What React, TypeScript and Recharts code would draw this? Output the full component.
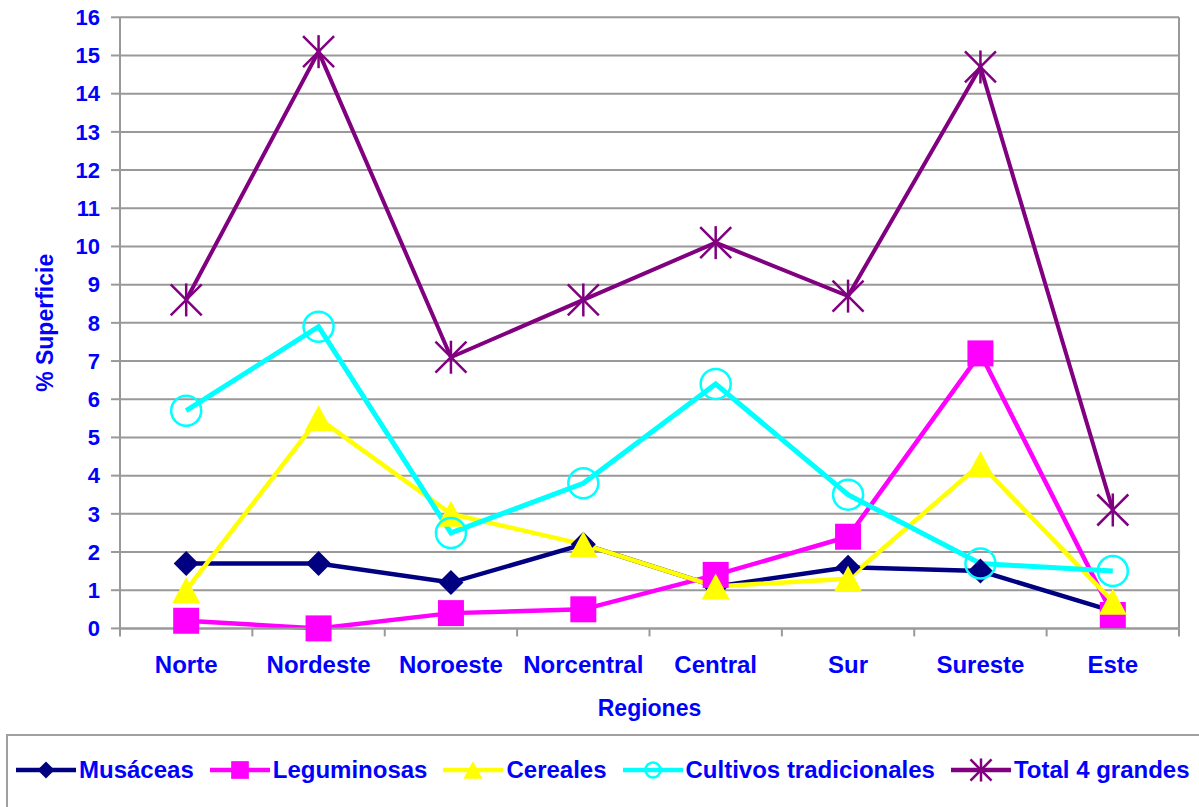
import React from 'react';
import { LineChart, Line, XAxis, YAxis, CartesianGrid, Legend, Label } from 'recharts';

const categories = ['Norte', 'Nordeste', 'Noroeste', 'Norcentral', 'Central', 'Sur', 'Sureste', 'Este'];
const musaceas = [1.7, 1.7, 1.2, 2.2, 1.1, 1.6, 1.5, 0.45];
const leguminosas = [0.2, 0.0, 0.4, 0.5, 1.4, 2.4, 7.2, 0.35];
const cereales = [1.0, 5.5, 3.0, 2.2, 1.1, 1.3, 4.3, 0.7];
const cultivos = [5.7, 7.9, 2.5, 3.8, 6.4, 3.5, 1.7, 1.5];
const total = [8.6, 15.1, 7.1, 8.6, 10.1, 8.7, 14.7, 3.1];
const yTicks = [0, 1, 2, 3, 4, 5, 6, 7, 8, 9, 10, 11, 12, 13, 14, 15, 16];
const xTitle = 'Regiones';
const yTitle = '% Superficie';

type Kind = 'diamond' | 'square' | 'triangle' | 'circle' | 'star';

const series: { key: string; name: string; color: string; kind: Kind; width: number }[] = [
  { key: 'musaceas', name: 'Musáceas', color: '#000080', kind: 'diamond', width: 4.5 },
  { key: 'leguminosas', name: 'Leguminosas', color: '#FF00FF', kind: 'square', width: 4.5 },
  { key: 'cereales', name: 'Cereales', color: '#FFFF00', kind: 'triangle', width: 4.5 },
  { key: 'cultivos', name: 'Cultivos tradicionales', color: '#00FFFF', kind: 'circle', width: 5 },
  { key: 'total', name: 'Total 4 grandes', color: '#800080', kind: 'star', width: 4 },
];

const data = categories.map((c, i) => ({
  idx: i,
  name: c,
  musaceas: musaceas[i],
  leguminosas: leguminosas[i],
  cereales: cereales[i],
  cultivos: cultivos[i],
  total: total[i],
}));

const xTicks = [
  ...categories.map((_, i) => i - 0.5),
  categories.length - 0.5,
  ...categories.map((_, i) => i),
].sort((a, b) => a - b);

const FONT = '"Liberation Sans", Arial, Helvetica, sans-serif';
const BLUE = '#0000FF';
const GRID = '#999999';

function Marker({ kind, cx, cy, s, color }: { kind: Kind; cx: number; cy: number; s: number; color: string }) {
  if (cx == null || cy == null) return <g />;
  switch (kind) {
    case 'diamond': {
      const h = 12.5 * s;
      return <polygon points={`${cx},${cy - h} ${cx + h},${cy} ${cx},${cy + h} ${cx - h},${cy}`} fill={color} />;
    }
    case 'square': {
      const h = 13 * s;
      return <rect x={cx - h} y={cy - h} width={2 * h} height={2 * h} fill={color} />;
    }
    case 'triangle': {
      const w = 14 * s;
      const h = 13 * s;
      return <polygon points={`${cx},${cy - h} ${cx + w},${cy + h} ${cx - w},${cy + h}`} fill={color} />;
    }
    case 'circle': {
      return <circle cx={cx} cy={cy} r={15 * s} fill="none" stroke={color} strokeWidth={2.5} />;
    }
    case 'star': {
      const h = 15.5 * s;
      return (
        <g stroke={color} strokeWidth={2.5}>
          <line x1={cx - h} y1={cy - h} x2={cx + h} y2={cy + h} />
          <line x1={cx + h} y1={cy - h} x2={cx - h} y2={cy + h} />
          <line x1={cx} y1={cy - h - 1} x2={cx} y2={cy + h + 1} />
        </g>
      );
    }
  }
  return <g />;
}

const XTick = (props: any) => {
  const { x, y, payload } = props;
  const v = payload.value;
  if (Number.isInteger(v)) {
    return (
      <text x={x} y={y + 45} textAnchor="middle" fill={BLUE} fontSize={24} fontWeight="bold" fontFamily={FONT}>
        {categories[v]}
      </text>
    );
  }
  return <line x1={x} x2={x} y1={y} y2={y + 8} stroke={GRID} strokeWidth={2} />;
};

const renderLegend = () => (
  <div
    style={{
      boxSizing: 'border-box',
      width: 1200,
      height: 90,
      border: '2px solid #a0a0a0',
      background: '#fff',
      display: 'flex',
      alignItems: 'center',
      paddingLeft: 8,
      paddingTop: 22,
      alignContent: 'flex-start',
      flexWrap: 'nowrap',
      height: 90,
      boxShadow: 'none',
    } as any}
  >
    <div style={{ display: 'flex', alignItems: 'center', height: 24, alignSelf: 'flex-start' }}>
      {series.map((s) => (
        <div key={s.key} style={{ display: 'flex', alignItems: 'center', marginRight: 16 }}>
          <svg width={60} height={24} style={{ display: 'block' }}>
            <line x1={0} y1={12} x2={60} y2={12} stroke={s.color} strokeWidth={4.5} />
            <Marker kind={s.kind} cx={30} cy={12} s={s.kind === 'circle' ? 0.5 : 0.68} color={s.color} />
          </svg>
          <span
            style={{
              marginLeft: 3,
              fontFamily: FONT,
              fontWeight: 'bold',
              fontSize: 24,
              lineHeight: '24px',
              color: BLUE,
              whiteSpace: 'nowrap',
            }}
          >
            {s.name}
          </span>
        </div>
      ))}
    </div>
  </div>
);

export default function App() {
  return (
    <div style={{ position: 'absolute', left: 0, top: 0, width: 1199, height: 807, overflow: 'hidden', background: '#fff' }}>
      <LineChart
        width={1199}
        height={807}
        data={data}
        margin={{ top: 17.3, right: 20, bottom: 78.6, left: 0 }}
      >
        <CartesianGrid
          stroke={GRID}
          strokeWidth={2}
          vertical={true}
          horizontal={true}
          verticalCoordinatesGenerator={(p: any) => [p.offset.left + p.offset.width]}
        />
        <XAxis
          dataKey="idx"
          type="number"
          domain={[-0.5, categories.length - 0.5]}
          ticks={xTicks}
          interval={0}
          allowDataOverflow
          tick={<XTick />}
          tickLine={false}
          tickSize={0}
          tickMargin={0}
          height={100}
          axisLine={{ stroke: GRID, strokeWidth: 2 }}
        >
          <Label
            content={(p: any) => {
              const vb = p.viewBox;
              return (
                <text
                  x={vb.x + vb.width / 2}
                  y={vb.y + 88}
                  textAnchor="middle"
                  fill={BLUE}
                  fontSize={23}
                  fontWeight="bold"
                  fontFamily={FONT}
                >
                  {xTitle}
                </text>
              );
            }}
          />
        </XAxis>
        <YAxis
          type="number"
          domain={[0, 16]}
          ticks={yTicks}
          interval={0}
          width={120}
          tickSize={9}
          tickMargin={11}
          tick={{ fill: BLUE, fontSize: 22, fontWeight: 'bold', fontFamily: FONT }}
          tickLine={{ stroke: GRID, strokeWidth: 2 }}
          axisLine={{ stroke: GRID, strokeWidth: 2 }}
        >
          <Label
            content={(p: any) => {
              const vb = p.viewBox;
              const cy = vb.y + vb.height / 2;
              const cx = vb.x + 53;
              return (
                <text
                  x={cx}
                  y={cy}
                  transform={`rotate(-90, ${cx}, ${cy})`}
                  textAnchor="middle"
                  fill={BLUE}
                  fontSize={23}
                  fontWeight="bold"
                  fontFamily={FONT}
                >
                  {yTitle}
                </text>
              );
            }}
          />
        </YAxis>
        <Legend
          layout="vertical"
          align="center"
          verticalAlign="middle"
          content={renderLegend}
          wrapperStyle={{ left: 6, top: 734, width: 1200, height: 90 }}
        />
        {series.map((s) => (
          <Line
            key={s.key}
            dataKey={s.key}
            name={s.name}
            type="linear"
            stroke={s.color}
            strokeWidth={s.width}
            isAnimationActive={false}
            activeDot={false}
            dot={(p: any) => (
              <Marker key={`${s.key}-${p.index}`} kind={s.kind} cx={p.cx} cy={p.cy} s={1} color={s.color} />
            )}
          />
        ))}
      </LineChart>
    </div>
  );
}
